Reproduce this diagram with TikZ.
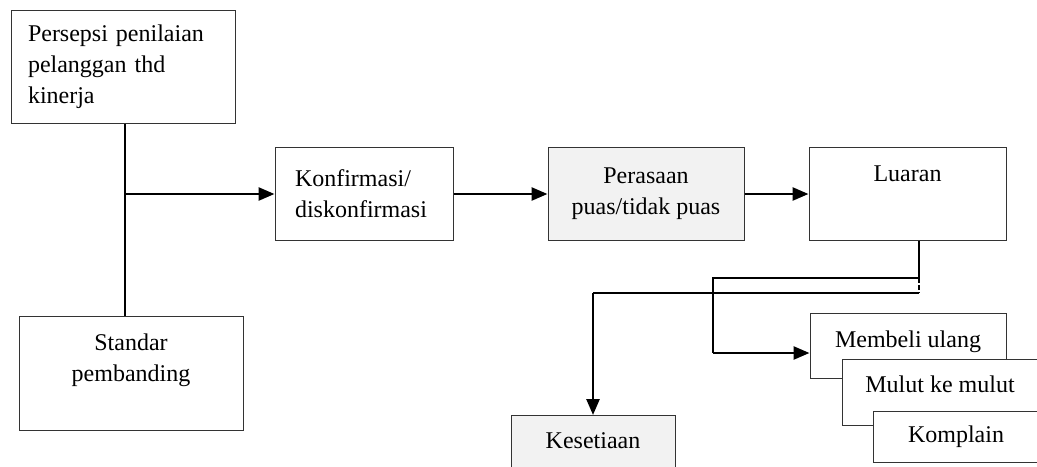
\documentclass[tikz,border=0pt]{standalone}
\usepackage{fontspec}
\setmainfont{Liberation Serif}
\usetikzlibrary{arrows.meta}
\tikzset{
	kotak/.style={draw=black!80, line width=0.5pt, rectangle, inner sep=0pt, font=\fontsize{12}{15.5}\selectfont},
	abu/.style={fill=black!5},
	garis/.style={line width=0.6pt},
	panah/.style={line width=1.3pt, -{Triangle[length=8pt,width=6.5pt]}}
}

\begin{document}
\begin{tikzpicture}[x=0.5pt, y=-0.5pt]
			%%%%% START %%%%%
			\useasboundingbox (0,0) rectangle (1037,466);
			
			% kotak kiri
			\node[kotak, text width=95pt, inner xsep=8.5pt, minimum height=56.5pt, align=left] (persepsi) at (123,66.5) {Persepsi penilaian\\pelanggan thd\\kinerja};
			\node[kotak, minimum width=112pt, minimum height=57pt, align=center] (standar) at (131,373) {Standar\\pembanding\\\mbox{}};
			
			% baris tengah
			\node[kotak, text width=69pt, inner xsep=10pt, minimum height=46.5pt, align=left] (konfirmasi) at (364,193.5) {Konfirmasi/\\diskonfirmasi};
			\node[kotak, abu, minimum width=98pt, minimum height=46.5pt, align=center] (perasaan) at (646,193.5) {Perasaan\\puas/tidak puas};
			\node[kotak, anchor=north, minimum width=98.5pt, text height=17pt, text depth=29.5pt] (luaran) at (907.5,147) {Luaran};
			
			% kotak bawah
			\node[kotak, abu, anchor=north, minimum width=82pt, text height=16.5pt, text depth=16pt] (kesetiaan) at (593,415) {Kesetiaan};
			\node[kotak, fill=white, anchor=north, minimum width=98pt, text height=17pt, text depth=15.5pt] (membeli) at (908,313) {Membeli ulang};
			\node[kotak, fill=white, anchor=north, minimum width=98pt, text height=16.5pt, text depth=16.5pt] (mulut) at (940,359) {Mulut ke mulut};
			\node[kotak, fill=white, anchor=north, minimum width=83pt, text height=15.5pt, text depth=10pt] (komplain) at (956,411) {Komplain};
			
			% titik belok
			\coordinate (cabang) at (125,194);
			\coordinate (pecah) at (919,278);
			\coordinate (kiri1) at (713,278);
			\coordinate (belok1) at (713,353);
			\coordinate (pecah2) at (919,293);
			\coordinate (kiri2) at (593,293);
			
			\draw[garis] (persepsi.south -| cabang) -- (standar.north -| cabang);
			\draw[panah] (cabang) -- (konfirmasi.west |- cabang);
			\draw[panah] (konfirmasi.east |- cabang) -- (perasaan.west |- cabang);
			\draw[panah] (perasaan.east |- cabang) -- (luaran.west |- cabang);
			
			\draw[garis] (luaran.south -| pecah) -- (pecah) -- (kiri1) -- (belok1);
			\draw[panah] (belok1) -- (belok1 -| membeli.west);
			\draw[garis, dash pattern=on 2.5pt off 1pt] (pecah) -- (pecah2);
			\draw[garis] (pecah2) -- (kiri2);
			\draw[panah] (kiri2) -- (kesetiaan.north);
			
			%%%%% END %%%%%
\end{tikzpicture}
\end{document}
